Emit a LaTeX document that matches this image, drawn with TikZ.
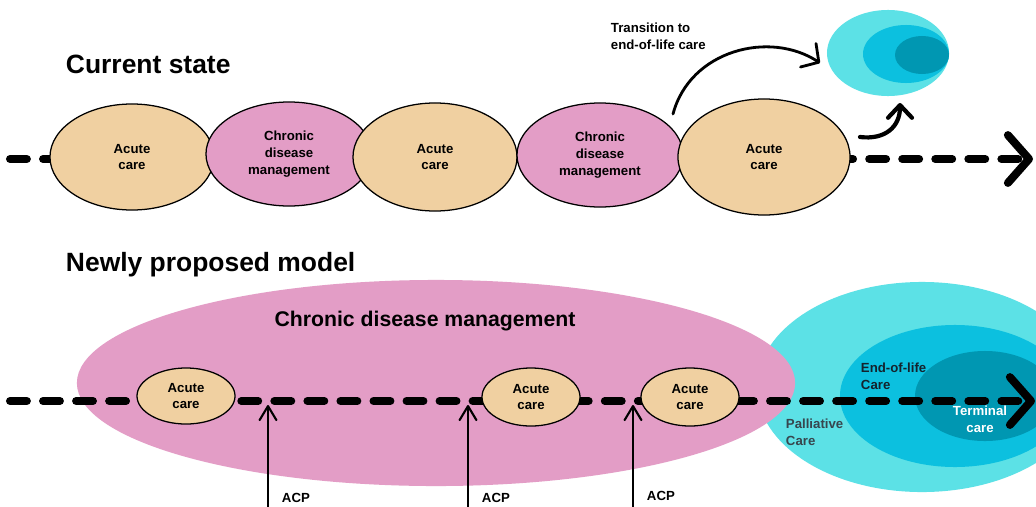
\documentclass[tikz,border=0pt]{standalone}
\usepackage{fontspec}
\setmainfont{Liberation Sans}
\usetikzlibrary{shapes.geometric,arrows.meta}
\definecolor{acutecol}{RGB}{240,208,161}
\definecolor{chroncol}{RGB}{227,157,198}
\definecolor{cyanA}{RGB}{92,225,230}
\definecolor{cyanB}{RGB}{12,192,223}
\definecolor{cyanC}{RGB}{0,151,178}
\definecolor{palltext}{RGB}{55,70,78}
\definecolor{eoltext}{RGB}{20,35,45}
\begin{document}
\begin{tikzpicture}[x=0.025cm,y=-0.025cm,
  font=\bfseries\fontsize{9.4}{12}\selectfont,
  ell/.style 2 args={ellipse, inner sep=0pt, align=center,
    minimum width={#1*0.05cm}, minimum height={#2*0.05cm}},
  acute/.style={fill=acutecol, draw=black, line width=0.9pt},
  chron/.style={fill=chroncol, draw=black, line width=0.9pt},
  timeline/.style={line width=5.7pt, line cap=round, dash pattern=on 12pt off 11.5pt,
    -{Straight Barb[length=15pt, width=34pt, round]}},
  title/.style={anchor=base west, font=\bfseries\fontsize{18.8}{22}\selectfont},
  acp/.style={line width=1.5pt, -{Straight Barb[length=10pt, width=12pt, round]}},
]
\useasboundingbox (0,0) rectangle (1036,506);
\clip (0,0) rectangle (1036,506);
\fill[white] (0,0) rectangle (1036,506);

% ---------- Current state ----------
\node[title] (t1) at (61,73) {Current state};
\coordinate (a0) at (10,159);
\coordinate (a1) at (1033,159);
\draw[timeline] (a0) -- (a1);

\node[acute, ell={82}{53}] (ac1) at (132,157) {Acute\\care};
\node[chron, ell={83}{52}] (ch1) at (289,154) {Chronic\\disease\\management};
\node[acute, ell={82}{54}] (ac2) at (435,157) {Acute\\care};
\node[chron, ell={83}{52}] (ch2) at (600,155) {Chronic\\disease\\management};
\node[acute, ell={86}{58}] (ac3) at (764,157) {Acute\\care};

\node[ell={61}{43}, fill=cyanA] (eo) at (888,53) {};
\node[ell={43}{29}, fill=cyanB] (em) at (906,54) {};
\node[ell={27}{19}, fill=cyanC] (ei) at (922,55) {};

\node[anchor=north west, align=left] (trl) at (606,18) {Transition to\\end-of-life care};

\coordinate (s1) at (673,114);
\coordinate (e1) at (820,63);
\draw[line width=2pt, line cap=round, -{Straight Barb[length=9pt, width=20pt, round]}]
  (s1) .. controls (690,50) and (770,30) .. (e1);
\coordinate (s2) at (860,137);
\coordinate (e2) at (900,103);
\draw[line width=3pt, line cap=round, -{Straight Barb[length=9pt, width=17pt, round]}]
  (s2) .. controls (885,140) and (900,127) .. (e2);

% ---------- Newly proposed model ----------
\node[title] (t2) at (61,271) {Newly proposed model};

\node[ell={165}{105}, fill=cyanA] (bo) at (922,387) {};
\node[ell={115}{71}, fill=cyanB] (bm) at (955,396) {};
\node[ell={70}{45}, fill=cyanC] (bi) at (985,396) {};
\node[ell={359}{103}, fill=chroncol] (cdm) at (436,383) {};
\node[font=\bfseries\fontsize{15.1}{18}\selectfont] (cdml) at (425,321) {Chronic disease management};

\coordinate (b0) at (10,401);
\coordinate (b1) at (1035,401);
\draw[timeline] (b0) -- (b1);

\node[acute, ell={49}{28}] (sa1) at (186,396) {Acute\\care};
\node[acute, ell={49}{29}] (sa2) at (531,397) {Acute\\care};
\node[acute, ell={49}{29}] (sa3) at (690,397) {Acute\\care};

\node[anchor=north west, align=left, text=eoltext] (eol) at (856,358) {End-of-life\\Care};
\node[anchor=north west, align=left, text=palltext] (pal) at (781,414) {Palliative\\Care};
\node[align=center, text=white] (ter) at (980,419) {Terminal\\care};

\coordinate (p1) at (268,510);
\coordinate (q1) at (268,405);
\coordinate (p2) at (468,510);
\coordinate (q2) at (468,405);
\coordinate (p3) at (633,510);
\coordinate (q3) at (633,405);
\draw[acp] (p1) -- (q1);
\draw[acp] (p2) -- (q2);
\draw[acp] (p3) -- (q3);
\node[anchor=west] (acp1) at (277,498) {ACP};
\node[anchor=west] (acp2) at (477,498) {ACP};
\node[anchor=west] (acp3) at (642,496) {ACP};
\end{tikzpicture}
\end{document}
